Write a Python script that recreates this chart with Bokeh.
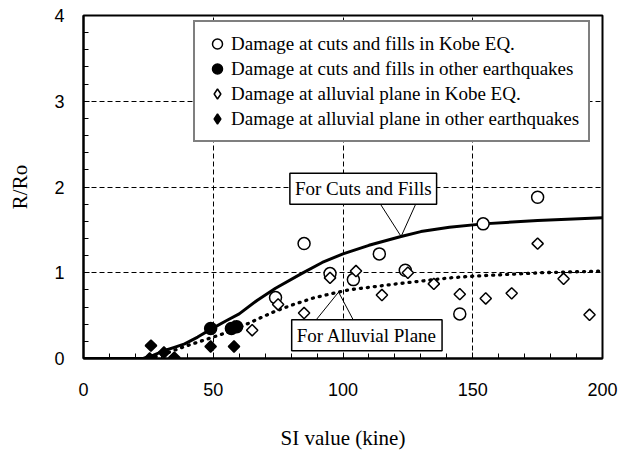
import numpy as np
from bokeh.plotting import figure
from bokeh.models import (FixedTicker, Legend, LegendItem, Label, Range1d)
from bokeh.embed import file_html
from bokeh.resources import INLINE

# ---- data ----
cut_kobe_x = [74, 85, 95, 104, 114, 124, 145, 154, 175]
cut_kobe_y = [0.71, 1.34, 0.99, 0.92, 1.22, 1.03, 0.52, 1.57, 1.88]

cut_other_x = [49, 57, 59]
cut_other_y = [0.35, 0.35, 0.37]

all_kobe_x = [65, 75, 85, 95, 105, 115, 125, 135, 145, 155, 165, 175, 185, 195]
all_kobe_y = [0.33, 0.63, 0.53, 0.94, 1.02, 0.74, 1.00, 0.87, 0.75, 0.70, 0.76, 1.34, 0.93, 0.51]

all_other_x = [26, 25.5, 31, 35, 49, 58, 58]
all_other_y = [0.15, 0.0, 0.07, 0.01, 0.14, 0.14, 0.37]

cut_curve_x = [0, 10, 23, 27, 31, 35, 39, 44, 49, 55, 60, 67, 74, 84, 92, 100, 110, 122, 130, 141, 154, 175, 200]
cut_curve_y = [0, 0, 0, 0.04, 0.09, 0.13, 0.17, 0.25, 0.34, 0.44, 0.52, 0.68, 0.82, 0.99, 1.12, 1.22, 1.32, 1.42, 1.48, 1.53, 1.57, 1.61, 1.64]

all_curve_x = [25, 30, 39, 49, 57, 65, 73, 80, 89, 102, 122, 141, 150, 176, 200]
all_curve_y = [0, 0.04, 0.14, 0.24, 0.32, 0.43, 0.54, 0.62, 0.71, 0.80, 0.875, 0.94, 0.96, 1.0, 1.02]

x_ticks = [0, 50, 100, 150, 200]
y_ticks = [0, 1, 2, 3, 4]

legend_labels = [
    "Damage at cuts and fills in Kobe EQ.",
    "Damage at cuts and fills in other earthquakes",
    "Damage at alluvial plane in Kobe EQ.",
    "Damage at alluvial plane in other earthquakes",
]
callout_cut = "For Cuts and Fills"
callout_all = "For Alluvial Plane"

SERIF = "Liberation Serif, Times New Roman, DejaVu Serif, serif"
SANS = "Liberation Sans, Arial, sans-serif"

p = figure(width=631, height=456, output_backend="svg", toolbar_location=None,
           x_range=Range1d(0, 200), y_range=Range1d(0, 4),
           min_border_left=83, min_border_right=29, min_border_top=15, min_border_bottom=98,
           x_axis_label="SI value (kine)", y_axis_label="R/Ro")
p.background_fill_color = "white"
p.border_fill_color = "white"
p.outline_line_color = "black"
p.outline_line_width = 2

for ax, ticks, minor in ((p.xaxis[0], x_ticks, list(range(0, 201, 10))),
                         (p.yaxis[0], y_ticks, [round(0.2 * i, 1) for i in range(21)])):
    ax.ticker = FixedTicker(ticks=ticks, minor_ticks=minor)
    ax.axis_line_color = "black"
    ax.axis_line_width = 2
    ax.major_tick_in = 6
    ax.major_tick_out = 0
    ax.minor_tick_in = 5
    ax.minor_tick_out = 0
    ax.major_tick_line_color = "black"
    ax.minor_tick_line_color = "black"
    ax.major_tick_line_width = 1
    ax.minor_tick_line_width = 1
    ax.major_label_text_font = SANS
    ax.major_label_text_font_size = "18px"
    ax.major_label_text_color = "black"
    ax.major_label_standoff = 19
    ax.axis_label_text_font = SERIF
    ax.axis_label_text_font_size = "21px"
    ax.axis_label_text_font_style = "normal"
    ax.axis_label_text_color = "black"

p.xaxis[0].major_label_standoff = 24
p.xaxis[0].axis_label_standoff = 27
p.yaxis[0].axis_label_standoff = 19

for g in (p.xgrid[0], p.ygrid[0]):
    g.grid_line_color = "black"
    g.grid_line_width = 1
    g.grid_line_dash = "5 3"

# curves
p.line(cut_curve_x, cut_curve_y, line_color="black", line_width=3)
p.line(all_curve_x, all_curve_y, line_color="black", line_width=3.3, line_dash="1 6", line_cap="round")

# callout pointers (tip located on the curves)
tip_cut_x = 122.4
tip_cut_y = float(np.interp(tip_cut_x, cut_curve_x, cut_curve_y))
p.segment(x0=[114, 128.3], y0=[1.82, 1.82], x1=[tip_cut_x, tip_cut_x], y1=[tip_cut_y, tip_cut_y],
          line_color="black", line_width=1)
tip_all_x = 98.3
tip_all_y = float(np.interp(tip_all_x, all_curve_x, all_curve_y))
p.segment(x0=[89.1, 104.3], y0=[0.43, 0.43], x1=[tip_all_x, tip_all_x], y1=[tip_all_y, tip_all_y],
          line_color="black", line_width=1)

# markers
r1 = p.scatter(cut_kobe_x, cut_kobe_y, marker="circle", size=12, fill_color="white",
               line_color="black", line_width=1.5)
r2 = p.scatter(cut_other_x, cut_other_y, marker="circle", size=12, fill_color="black",
               line_color="black", line_width=1.5)
r3 = p.scatter(all_kobe_x, all_kobe_y, marker="square", angle=np.pi / 4, size=8, fill_color="white",
               line_color="black", line_width=1.5)
r4 = p.scatter(all_other_x, all_other_y, marker="square", angle=np.pi / 4, size=8, fill_color="black",
               line_color="black", line_width=1.5)

# legend-only diamond keys (the legend draws markers unrotated)
r3k = p.scatter(all_kobe_x[:1], all_kobe_y[:1], marker="diamond", fill_color="white",
                line_color="black", line_width=1.5, visible=False)
r4k = p.scatter(all_other_x[:1], all_other_y[:1], marker="diamond", fill_color="black",
                line_color="black", line_width=1.5, visible=False)

# callout boxes
for txt, cx, cy in ((callout_cut, 107.8, 1.98), (callout_all, 109.2, 0.27)):
    p.add_layout(Label(x=cx, y=cy, text=txt, text_align="center", text_baseline="middle",
                       text_font=SERIF, text_font_size="19px", text_color="black",
                       background_fill_color="white", border_line_color="black",
                       border_line_width=1.5, padding=5))

legend = Legend(items=[LegendItem(label=lab, renderers=[r]) for lab, r in
                       zip(legend_labels, (r1, r2, r3k, r4k))],
                location=(110, 216), orientation="vertical", click_policy="none",
                glyph_width=26, glyph_height=25, label_height=20, spacing=0, padding=9,
                margin=0, label_standoff=1,
                label_text_font=SERIF, label_text_font_size="19px", label_text_color="black",
                border_line_color="black", border_line_width=2, background_fill_color="white",
                background_fill_alpha=1.0, inactive_fill_alpha=0.0)
p.add_layout(legend, "center")

open("out.html", "w").write(file_html(p, INLINE))
